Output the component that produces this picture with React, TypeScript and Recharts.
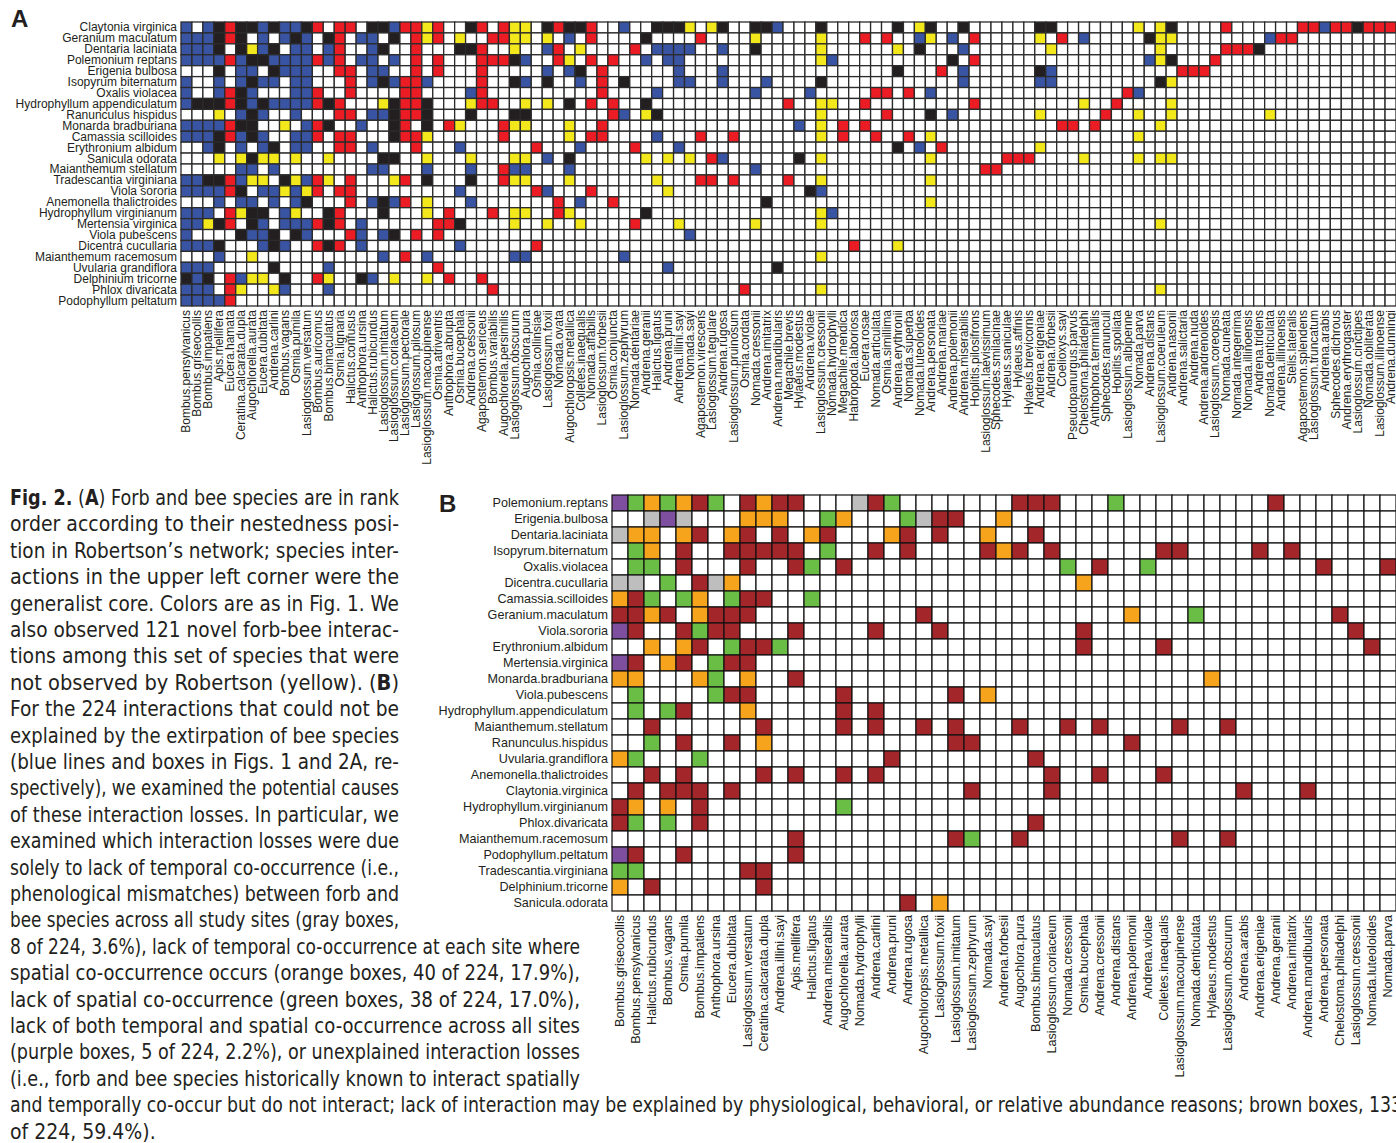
import React from "react";
import { ScatterChart, Scatter, XAxis, YAxis } from "recharts";

const FONT = "'Liberation Sans', Arial, Helvetica, sans-serif";
const CAPTION_FONT = "'Liberation Sans Narrow', 'DejaVu Sans Condensed', 'Liberation Sans', sans-serif";
const INK = "#231F20";

// ---- Panel A: forbs (rows) x bees (columns), Robertson network ----
const forbsA = [
  "Claytonia virginica", "Geranium maculatum", "Dentaria laciniata", "Polemonium reptans",
  "Erigenia bulbosa", "Isopyrum biternatum", "Oxalis violacea", "Hydrophyllum appendiculatum",
  "Ranunculus hispidus", "Monarda bradburiana", "Camassia scilloides", "Erythronium albidum",
  "Sanicula odorata", "Maianthemum stellatum", "Tradescantia virginiana", "Viola sororia",
  "Anemonella thalictroides", "Hydrophyllum virginianum", "Mertensia virginica", "Viola pubescens",
  "Dicentra cucullaria", "Maianthemum racemosum", "Uvularia grandiflora", "Delphinium tricorne",
  "Phlox divaricata", "Podophyllum peltatum",
];

const beesA = [
  "Bombus.pensylvanicus", "Bombus.griseocollis", "Bombus.impatiens", "Apis.mellifera", "Eucera.hamata",
  "Ceratina.calcarata.dupla", "Augochlorella.aurata", "Eucera.dubitata", "Andrena.carlini", "Bombus.vagans",
  "Osmia.pumila", "Lasioglossum.versatum", "Bombus.auricomus", "Bombus.bimaculatus", "Osmia.lignaria",
  "Halictus.confusus", "Anthophora.ursina", "Halictus.rubicundus", "Lasioglossum.imitatum", "Lasioglossum.coriaceum",
  "Lasioglossum.pectorale", "Lasioglossum.pilosum", "Lasioglossum.macoupinense", "Osmia.atriventris", "Anthophora.abrupta",
  "Osmia.bucephala", "Andrena.cressonii", "Agapostemon.sericeus", "Bombus.variabilis", "Augochlorella.persimilis",
  "Lasioglossum.obscurum", "Augochlora.pura", "Osmia.collinsiae", "Lasioglossum.foxii", "Nomada.ovata",
  "Augochloropsis.metallica", "Colletes.inaequalis", "Nomada.affabilis", "Lasioglossum.forbesii", "Osmia.conjuncta",
  "Lasioglossum.zephyrum", "Nomada.dentariae", "Andrena.geranii", "Halictus.ligatus", "Andrena.pruni",
  "Andrena.illini.sayi", "Nomada.sayi", "Agapostemon.virescens", "Lasioglossum.tegulare", "Andrena.rugosa",
  "Lasioglossum.pruinosum", "Osmia.cordata", "Nomada.cressonii", "Andrena.imitatrix", "Andrena.mandibularis",
  "Megachile.brevis", "Hylaeus.modestus", "Andrena.violae", "Lasioglossum.cressonii", "Nomada.hydrophylli",
  "Megachile.mendica", "Habropoda.laboriosa", "Eucera.rosae", "Nomada.articulata", "Osmia.simillima",
  "Andrena.erythronii", "Nomada.superba", "Nomada.luteoloides", "Andrena.personata", "Andrena.mariae",
  "Andrena.polemonii", "Andrena.miserabilis", "Hoplitis.pilosifrons", "Lasioglossum.laevissimum", "Sphecodes.smilacinae",
  "Hylaeus.saniculae", "Hylaeus.affinis", "Hylaeus.brevicornis", "Andrena.erigeniae", "Andrena.forbesii",
  "Coelioxys.sayi", "Pseudopanurgus.parvus", "Chelostoma.philadelphi", "Anthophora.terminalis", "Sphecodes.ranunculi",
  "Hoplitis.spoliata", "Lasioglossum.albipenne", "Nomada.parva", "Andrena.distans", "Lasioglossum.coeruleum",
  "Andrena.nasonii", "Andrena.salictaria", "Andrena.nuda", "Andrena.andrenoides", "Lasioglossum.coreopsis",
  "Nomada.cuneata", "Nomada.integerrima", "Nomada.illinoensis", "Andrena.tridens", "Nomada.denticulata",
  "Andrena.illinoensis", "Stelis.lateralis", "Agapostemon.splendens", "Lasioglossum.truncatum", "Andrena.arabis",
  "Sphecodes.dichrous", "Andrena.erythrogaster", "Lasioglossum.cinctipes", "Nomada.obliterata", "Lasioglossum.illinoense",
  "Andrena.dunningi",
];

// B = lost (blue), K = persisted (black), R = new (red), Y = novel, unobserved by Robertson (yellow), W = none
// one string per forb, groups of ten columns; missing tail = W
const cellsA = [
  "BWBKRKKBKB BKRWRRWKKB RRYRWWKRWR YYWKRKKRWW BWWKKKYWYK WWKKBWWWKW WWWWWKWYKW WKWWWWWWKK WWWWWWWYWY KWWWWRWWWW WWRRBRRKRRR",
  "BBBKRKWBWB KBWKRWBBWK WRYRWYWWRR YYWYWBWRWW WWKWWWWRWW WWYWWWWWYW WWRWRWWBYW BWRWWWWWYW RWBWWWWWKY YWWWWWWWWB RRWWWWWWWWW",
  "BBBKWKYBKW BBWBRWWBKW WRWWWKKRWW YWWBRWYWWW WRWBBBBWWB WWKWWWWWYW WWWWWYWKWW WBWWWWWWWY WWWWWWWWWY WWWWWRRRKW WWWWWWWWWWW",
  "BBBBRBKKBB BBRBRWBBWB WRWRWWWRRR KBWWRYWRWR WWBWBBWWWW WWWWWWWWYB WWWWWWWWWW KWRWWWWWWW WWWWWWWWBY KWWWRWWWWW WWWWWWWWWWW",
  "WWWKWBBWKB BBWWRRWBBW WRWRWWWRWW WWWBWBKWRW WWWWWBWWWB WWWWWWWWWW WWWWWKWWWR WBWWWWWWKB WWWWWWWWWW WRRRWWWWWW WWWWWWWWWWW",
  "BWWBWBKBBW BBWWWRWBKB RRBWWWWRWW KBWKWWBWRW KWWWWBBWWB WWWBWWWWKW WWWWWWWWWW WBWWWWWWBB WWWWWWWWWK YWWWWWWWWW WWWWWWWWWWW",
  "BWWBRKBWWW BBRWWRWWWW RRWWWWBRWW WWWWWWWWRW WWWBWWWWWW WWBWWWWBWW WWWRRWRWBW WWWWWWWWWW WWWWWWRBWW WWWWWWWWWW WWWWWWWWWWW",
  "BKKKRKBKBB BBRKRWWWYK RRKWWWYRRW WYWYWKWRWR WWKWWWWWWW WWWWWRWWYY WWRWWWWWWW WWRWWWWWWW WWYWWRWWWW YWWWWWWWWW WWWWWWWWWWW",
  "WWWYWBKBWW BWWWRRWBBK RRKWWWKWWW KKWWWWWWWR BWYKWWWWWW WWWWWWWWYW WWWWRWWWKW BWWWWWWWYW WWWWRWWYWW YWWWWWWWWY WWWWWWWWWWW",
  "BBBBRKKWWY WBRKWWBWWK RWKWRYWWWR YYWWWYWWRW WWWWWWWWWW WWWWWWBWYW RWRWWWWWWW WWWWWWWWWW RRWRWWWWWY",
  "BBBKRBKBWW BBRWRRWWWK RRYWWWWWWR WWWWWYWRRW WWWBWWWRWW RWWWWWWWYW RWWRWWRWYW WWWWWWWWWW WWWWWWWYWW",
  "WWBKWBWBKW BBWWRRWBWW WRWWWBWWWW WWRWWWBWWW WRWWWBWWWW WWWWWWWWWW WWWWWKWBWR WWWWWWWWYW",
  "WWWYWYKYYW YWWYWWWWKK WWYWWWYWWW YYWBWKWWWW WWYWYWYWRB WWWWWWKWYW WWWWWWWWYW WWWWWRRRWW WWYWWWWYWY YWWWWWWWWW",
  "WWWWWBBWBW WWWWWWWBBW WWBWWWBWWR BBWWWBWWWW WWWWWWWWWW WWBWWWWWWW WWWWWWWWWW WWWRRWWWWW",
  "BBKKRBYYWK YBRYWRWWWY RWKWWWKWWR YYWWWYWWWW WWWYWWWRRW RWWWWRWWYW WWWWWWWWYW",
  "BBBBRKWBBY BYRWRRWWWW WWWWWBWWWW WWRBWWWRWW WWWWYWWWWW WWWWWWWKBW",
  "WWWBWBBWBW BKWWWRWBKB RWYWWWBWWW WWWWRWBWWR WWWWWWWWWW WWWKWWWWWW WWWWWWWWYW",
  "BBBWRYKKWB YWWKRWWWKW WWYWRWWWRW YYWWRYWWWW WWKWWWWWWW WWWWWWWWYB",
  "BBYKRWKBWB BBRKRWBWWW WWWRRKWWWW YWWYWWYWWW WRWWWYWWWW WWYWWWWWYW WWWWWWWWWW WWWWWWWWWW WWWWWWWWWY",
  "BWWWWKBBKW KBWWWRBWBK WRWRWWWWWW WWWWWWWWWW WWWWWWBWWW",
  "BBBKWWWBKB WWRKRWBWWW WWWWWBWWWW WWRWWWWWWW WWWWWWWWWW WWWWWWWWWW WRWWWYWWWW",
  "WWWBWWYWWW WWWWWWWWBW RWBWWWWWWW BBWWWWWWWW BWWWWWWWWW WWWWWWWWYW",
  "BBBWWWWWKW WWWBWWWWWW WWWRWWWWWW WWWWWWWWWW WWWWBWWWWW WWWWKWWWWW",
  "KBKWRBYYWK WWRYWWKBWY WWYWRWWRWW",
  "BBBWRYWWYB WWWBWWWWWW WWWWWWWWRW WWWWWWWWWW WWWWWWWWWW WRWWWWWWYW WWWWWWWWWW WWWWWWWWWW WWWWWWWWWY",
  "BBBBRWWWWW",
];

const colorsA: Record<string, string> = {
  B: "#3A54A4",
  K: "#231F20",
  R: "#EC1C24",
  Y: "#F2E81B",
  W: "#FFFFFF",
};

// ---- Panel B: causes of the 224 lost interactions ----
const forbsB = [
  "Polemonium.reptans", "Erigenia.bulbosa", "Dentaria.laciniata", "Isopyrum.biternatum", "Oxalis.violacea",
  "Dicentra.cucullaria", "Camassia.scilloides", "Geranium.maculatum", "Viola.sororia", "Erythronium.albidum",
  "Mertensia.virginica", "Monarda.bradburiana", "Viola.pubescens", "Hydrophyllum.appendiculatum", "Maianthemum.stellatum",
  "Ranunculus.hispidus", "Uvularia.grandiflora", "Anemonella.thalictroides", "Claytonia.virginica", "Hydrophyllum.virginianum",
  "Phlox.divaricata", "Maianthemum.racemosum", "Podophyllum.peltatum", "Tradescantia.virginiana", "Delphinium.tricorne",
  "Sanicula.odorata",
];

const beesB = [
  "Bombus.griseocollis", "Bombus.pensylvanicus", "Halictus.rubicundus", "Bombus.vagans", "Osmia.pumila",
  "Bombus.impatiens", "Anthophora.ursina", "Eucera.dubitata", "Lasioglossum.versatum", "Ceratina.calcarata.dupla",
  "Andrena.illini.sayi", "Apis.mellifera", "Halictus.ligatus", "Andrena.miserabilis", "Augochlorella.aurata",
  "Nomada.hydrophylli", "Andrena.carlini", "Andrena.pruni", "Andrena.rugosa", "Augochloropsis.metallica",
  "Lasioglossum.foxii", "Lasioglossum.imitatum", "Lasioglossum.zephyrum", "Nomada.sayi", "Andrena.forbesii",
  "Augochlora.pura", "Bombus.bimaculatus", "Lasioglossum.coriaceum", "Nomada.cressonii", "Osmia.bucephala",
  "Andrena.cressonii", "Andrena.distans", "Andrena.polemonii", "Andrena.violae", "Colletes.inaequalis",
  "Lasioglossum.macoupinense", "Nomada.denticulata", "Hylaeus.modestus", "Lasioglossum.obscurum", "Andrena.arabis",
  "Andrena.erigeniae", "Andrena.geranii", "Andrena.imitatrix", "Andrena.mandibularis", "Andrena.personata",
  "Chelostoma.philadelphi", "Lasioglossum.cressonii", "Nomada.luteoloides", "Nomada.parva",
];

// S = gray (temporal, all sites), O = orange (temporal, per site), G = green (spatial),
// P = purple (both), R = brown (unexplained), W = none
const cellsB = [
  "PGOGORGWRO RRWWWSRGWW WWWWWRRRWW WGWWWWWWWW WRWWWWWWW",
  "WWSPSWWWOO OWWGOWWWGS RRWWOWWWWW",
  "SOOWORWORW RWORWWWORW RWWOWWRWWW",
  "WGOWRWWRRR RRWGWWRWRW WWWRORWRWW WWWWRRWWWW RWRWWWWWW",
  "WGGWRWWWRW WRGWRWWWWW WWWWWWWWGW RWWGWWWWWW WWWWRWWWR",
  "SSWGWRSOWW WWWWWWWWWW WWWWWWWWWO",
  "ORGWGOWGRR WWGWWWWWWW",
  "RRORWORRRW WWWWWWWWWR WWWWWWWWWW WWOWWWGWWW WWWWWRWWW",
  "PRWWRGRRWW WRWWWWRWWW RWWWWWWWWR WWWWWWWWWW WWWWWWRWW",
  "WWOWORWGRR GWWWWWWWWW WWWWWWWWWR WWWWRWWWWW WWWWWWWRW",
  "PRWORWGRRW",
  "OOWWWOGWOW WRWWWWWWWW WWWWWWWWWW WWWWWWWOWW",
  "WGWWWWGRRW WWWWRWWWWW WRWOWWWWWW",
  "WGWGRWWWOW WWWWRWRWWW",
  "WWRWWWWWWR WWWWRWRWWR WRWWWRWWRW RWWWWRWWRW",
  "WWGWRWWRWO WWWWWWWWWW WRRWWWWWWW WWRWWWWWWW",
  "OGWWWGWWWW WWWWWWWRWW WWWWWWRWWW",
  "WWRWRWWWWR WRWWRWRWWW WWWWWWWRWW RWWWRWWWWW",
  "WRWRRRWRWW WWWWWWWWWW WWRWWWWRWW WWWWWWWWWR WWWRWWWWW",
  "ROWOWRWWWW WWWWGWWWWW",
  "RGWGWRWWWW WWWWWWWWWW WWWWWWRWWW",
  "WWWWWWWWWW WRWWWWWWWW WRGWWRWWWW WWWWWRWWRW",
  "PRWWRWWWWW WRWWWWWWWW",
  "GGWWWWWWRR",
  "OWRWWWWWWR",
  "WWWWWWWWWW WWWWWWWWRW OWWWWWWWWW",
];

const colorsB: Record<string, string> = {
  S: "#BEBEBE",
  O: "#F7A41D",
  G: "#6ABD45",
  P: "#7E4F9E",
  R: "#A2262A",
  W: "#FFFFFF",
};

// ---- caption (*...* = bold) ----
const captionLines = [
  "*Fig. 2.* (*A*) Forb and bee species are in rank",
  "order according to their nestedness posi-",
  "tion in Robertson\u2019s network; species inter-",
  "actions in the upper left corner were the",
  "generalist core. Colors are as in Fig. 1. We",
  "also observed 121 novel forb-bee interac-",
  "tions among this set of species that were",
  "not observed by Robertson (yellow). (*B*)",
  "For the 224 interactions that could not be",
  "explained by the extirpation of bee species",
  "(blue lines and boxes in Figs. 1 and 2A, re-",
  "spectively), we examined the potential causes",
  "of these interaction losses. In particular, we",
  "examined which interaction losses were due",
  "solely to lack of temporal co-occurrence (i.e.,",
  "phenological mismatches) between forb and",
  "bee species across all study sites (gray boxes,",
  "8 of 224, 3.6%), lack of temporal co-occurrence at each site where",
  "spatial co-occurrence occurs (orange boxes, 40 of 224, 17.9%),",
  "lack of spatial co-occurrence (green boxes, 38 of 224, 17.0%),",
  "lack of both temporal and spatial co-occurrence across all sites",
  "(purple boxes, 5 of 224, 2.2%), or unexplained interaction losses",
  "(i.e., forb and bee species historically known to interact spatially",
  "and temporally co-occur but do not interact; lack of interaction may be explained by physiological, behavioral, or relative abundance reasons; brown boxes, 133",
  "of 224, 59.4%).",
];

function buildCells(rows: string[], nCols: number, palette: Record<string, string>) {
  const out: { x: number; y: number; fill: string }[] = [];
  rows.forEach((row, r) => {
    const s = row.replace(/\s+/g, "").padEnd(nCols, "W");
    for (let c = 0; c < nCols; c++) {
      out.push({ x: c + 0.5, y: r + 0.5, fill: palette[s[c]] || "#FFFFFF" });
    }
  });
  return out;
}

interface MatrixProps {
  rowLabels: string[];
  colLabels: string[];
  rows: string[];
  palette: Record<string, string>;
  width: number;
  height: number;
  plotLeft: number;
  plotTop: number;
  plotHeight: number;
  fontSize: number;
  stroke: string;
  strokeWidth: number;
}

function Matrix({
  rowLabels, colLabels, rows, palette, width, height,
  plotLeft, plotTop, plotHeight, fontSize, stroke, strokeWidth,
}: MatrixProps) {
  const nR = rowLabels.length;
  const nC = colLabels.length;
  const data = buildCells(rows, nC, palette);
  const cw = (width - plotLeft) / nC;
  const ch = plotHeight / nR;

  const cell = (p: any) => (
    <rect
      x={p.cx - cw / 2}
      y={p.cy - ch / 2}
      width={cw}
      height={ch}
      fill={p.payload.fill}
      stroke={stroke}
      strokeWidth={strokeWidth}
    />
  );

  const colTick = (p: any) => (
    <text
      x={p.x}
      y={p.y}
      transform={`rotate(-90 ${p.x} ${p.y})`}
      textAnchor="end"
      dominantBaseline="central"
      fontSize={fontSize}
      fontFamily={FONT}
      fill={INK}
    >
      {colLabels[Math.round(p.payload.value - 0.5)]}
    </text>
  );

  const rowTick = (p: any) => (
    <text
      x={p.x}
      y={p.y}
      textAnchor="end"
      dominantBaseline="central"
      fontSize={fontSize}
      fontFamily={FONT}
      fill={INK}
    >
      {rowLabels[Math.round(p.payload.value - 0.5)]}
    </text>
  );

  return (
    <ScatterChart width={width} height={height} margin={{ top: plotTop, right: 0, bottom: 0, left: 0 }}>
      <XAxis
        type="number"
        dataKey="x"
        domain={[0, nC]}
        ticks={colLabels.map((_, i) => i + 0.5)}
        interval={0}
        height={height - plotTop - plotHeight}
        axisLine={false}
        tickLine={false}
        tickSize={0}
        tickMargin={4}
        tick={colTick}
      />
      <YAxis
        type="number"
        dataKey="y"
        domain={[0, nR]}
        reversed
        ticks={rowLabels.map((_, i) => i + 0.5)}
        interval={0}
        width={plotLeft}
        axisLine={false}
        tickLine={false}
        tickSize={0}
        tickMargin={4}
        tick={rowTick}
      />
      <Scatter data={data} shape={cell} isAnimationActive={false} />
    </ScatterChart>
  );
}

function Caption() {
  return (
    <svg width={1396} height={1143} style={{ position: "absolute", left: 0, top: 0 }}>
      <text x={11} y={27} fontSize={24} fontWeight="bold" fontFamily={FONT} fill={INK}>A</text>
      <text x={439} y={512} fontSize={24} fontWeight="bold" fontFamily={FONT} fill={INK}>B</text>
      {captionLines.map((line, i) => {
        const len = i < 17 ? 389 : i < 23 ? 570 : i === 23 ? 1392 : undefined;
        const parts = line.split("*");
        return (
          <text
            key={i}
            x={10}
            y={505 + i * 26.4}
            fontSize={21}
            fontFamily={CAPTION_FONT}
            fill={INK}
            textLength={len}
            lengthAdjust={len ? "spacingAndGlyphs" : undefined}
          >
            {parts.map((t, j) => (
              <tspan key={j} fontWeight={j % 2 === 1 ? "bold" : "normal"}>{t}</tspan>
            ))}
          </text>
        );
      })}
    </svg>
  );
}

export default function App() {
  return (
    <div style={{ position: "relative", width: 1396, height: 1143, overflow: "hidden", background: "#FFFFFF" }}>
      <style>{"body{margin:0}"}</style>
      <Caption />
      <div style={{ position: "absolute", left: 0, top: 0 }}>
        <Matrix
          rowLabels={forbsA}
          colLabels={beesA}
          rows={cellsA}
          palette={colorsA}
          width={1396}
          height={480}
          plotLeft={181}
          plotTop={22}
          plotHeight={284}
          fontSize={12}
          stroke="#2B2B2B"
          strokeWidth={1.3}
        />
      </div>
      <div style={{ position: "absolute", left: 0, top: 485 }}>
        <Matrix
          rowLabels={forbsB}
          colLabels={beesB}
          rows={cellsB}
          palette={colorsB}
          width={1396}
          height={620}
          plotLeft={612}
          plotTop={10}
          plotHeight={416}
          fontSize={12.6}
          stroke="#111111"
          strokeWidth={1.2}
        />
      </div>
    </div>
  );
}
